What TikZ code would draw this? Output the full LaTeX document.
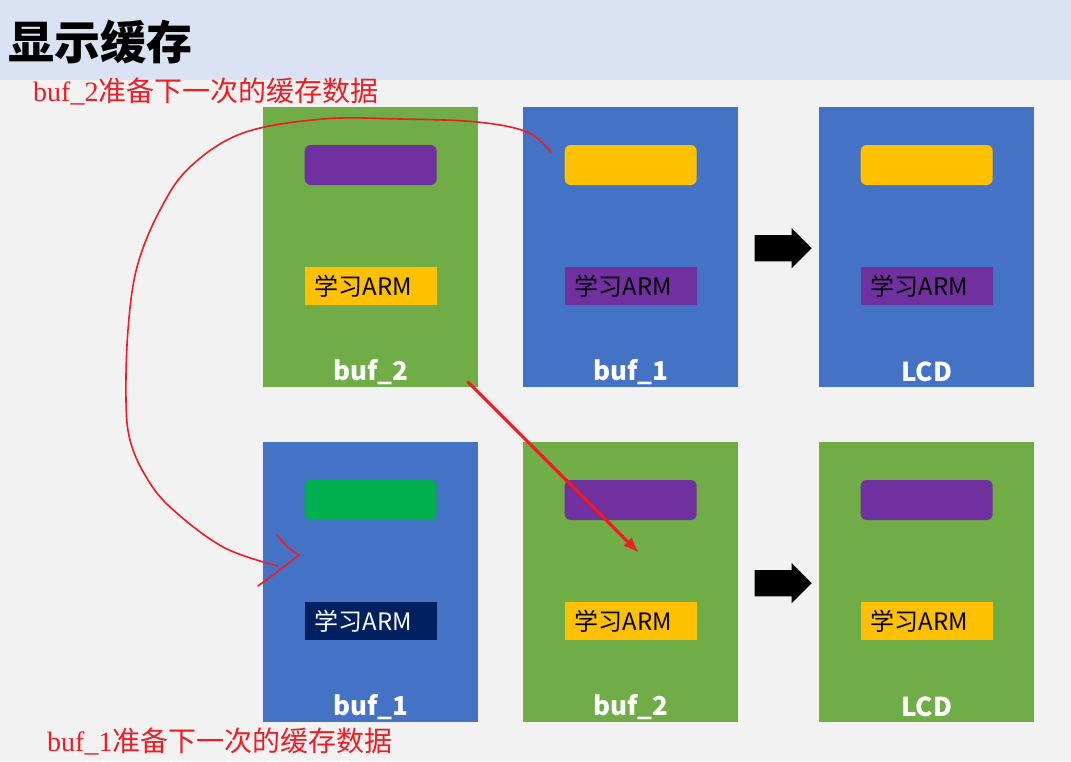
\documentclass[tikz,border=0pt]{standalone}
\usepackage{fontspec}
\newfontfamily\cjk{Noto Sans CJK SC}
\newfontfamily\latinserif{Liberation Serif}
\usetikzlibrary{calc,arrows.meta,shapes.arrows}

\definecolor{bufgreen}{HTML}{70AD47}
\definecolor{bufblue}{HTML}{4472C4}
\definecolor{bufpurple}{HTML}{7030A0}
\definecolor{bufyellow}{HTML}{FFC000}
\definecolor{newgreen}{HTML}{00B050}
\definecolor{bufnavy}{HTML}{002060}
\definecolor{penred}{HTML}{EE1C25}
\definecolor{headbg}{HTML}{DAE3F3}
\definecolor{pagebg}{HTML}{F2F2F2}

\begin{document}
\begin{tikzpicture}[x=1pt,y=-1pt,
    panel/.style={minimum width=215pt,minimum height=280pt,inner sep=0pt,anchor=north west},
    topbar/.style={rounded corners=6pt,minimum width=132pt,minimum height=40pt,inner sep=0pt},
    tagbox/.style={minimum width=132pt,minimum height=38pt,inner xsep=10pt,inner ysep=0pt,
        text width=112pt,align=left,font=\cjk\fontsize{24}{26}\selectfont},
    bufname/.style={text=white,inner sep=0pt,font=\cjk\bfseries\fontsize{26}{28}\selectfont},
    note/.style={text=penred,anchor=west,inner sep=0pt,font=\cjk\fontsize{28}{30}\selectfont},
    swap/.style={single arrow,fill=black,inner sep=0pt,text height=26pt,text depth=0pt,
        minimum height=57pt,single arrow head extend=7pt,anchor=tip},
    pen/.style={penred,line width=1.6pt,line cap=round,line join=round}]

    % page and header band
    \fill[pagebg] (0,0) rectangle (1071,761);
    \fill[headbg] (0,0) rectangle (1071,80);
    \node[anchor=west,inner sep=0pt,font=\cjk\bfseries\fontsize{46}{50}\selectfont] (title) at (8,42) {显示缓存};

    % first row
    \node[panel,fill=bufgreen] (a2) at (263,107) {};
    \node[panel,fill=bufblue] (a1) at (523,107) {};
    \node[panel,fill=bufblue] (alcd) at (819,107) {};

    % second row
    \node[panel,fill=bufblue] (b1) at (263,442) {};
    \node[panel,fill=bufgreen] (b2) at (523,442) {};
    \node[panel,fill=bufgreen] (blcd) at (819,442) {};

    % contents of every buffer
    \foreach \p/\bar/\tag/\ink/\name in {a2/bufpurple/bufyellow/black/buf\_2,
            a1/bufyellow/bufpurple/black/buf\_1, alcd/bufyellow/bufpurple/black/LCD,
            b1/newgreen/bufnavy/white/buf\_1, b2/bufpurple/bufyellow/black/buf\_2,
            blcd/bufpurple/bufyellow/black/LCD} {
        \node[topbar,fill=\bar] (\p-bar) at ($(\p.north)+(0,58)$) {};
        \node[tagbox,fill=\tag,text=\ink] (\p-tag) at ($(\p.north)+(0,179)$) {学习ARM};
        \node[bufname] (\p-name) at ($(\p.north)+(0,265)$) {\name};
    }

    % buffer shown on the LCD
    \node[swap] (swapA) at ($(alcd.west)+(-7,1)$) {};
    \node[swap] (swapB) at ($(blcd.west)+(-7,1)$) {};

    % hand written notes
    \node[note] (noteA) at (33,91) {{\latinserif buf\_2}准备下一次的缓存数据};
    \node[note] (noteB) at (47,741) {{\latinserif buf\_1}准备下一次的缓存数据};

    \coordinate (loopStart) at (551,152);
    \coordinate (loopEnd) at (278,566);
    \draw[pen] plot[smooth,tension=0.6] coordinates {(loopStart) (527,132) (477,122) (400,119)
        (323,119) (243,133) (190,167) (160,210) (137,267) (128,330) (126,400) (130,440)
        (145,475) (170,507) (223,547) (loopEnd)};
    \draw[pen] (277,535) .. controls (288,548) .. (299,555) .. controls (280,570) .. (258,586);

    \coordinate (moveStart) at (468,382);
    \coordinate (moveEnd) at (639,553);
    \draw[pen,line width=3pt,-{Latex[length=16pt,width=12pt]}] (moveStart) -- (moveEnd);
\end{tikzpicture}
\end{document}
